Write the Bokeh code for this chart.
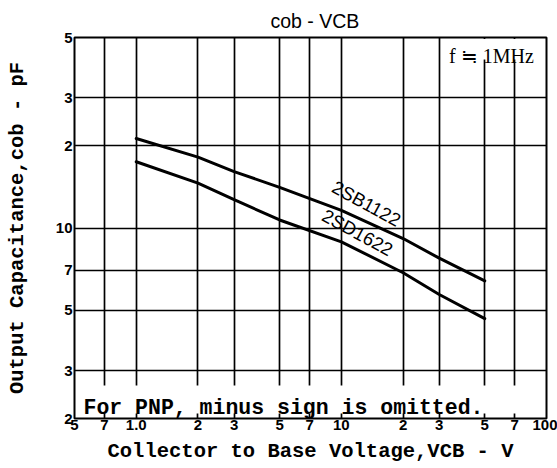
import math
from bokeh.plotting import figure
from bokeh.models import FixedTicker, Label, BoxAnnotation, Range1d, Title
from bokeh.embed import file_html
from bokeh.resources import INLINE
from bokeh.core.properties import value

# ---- data ----
vcb = [1.0, 2.0, 3.0, 5.0, 10.0, 20.0, 30.0, 50.0]
cob_2sb1122 = [21.3, 18.2, 16.1, 14.1, 11.6, 9.15, 7.75, 6.4]
cob_2sd1622 = [17.5, 14.6, 12.7, 10.7, 8.9, 6.85, 5.7, 4.65]

x_ticks = [0.5, 0.7, 1, 2, 3, 5, 7, 10, 20, 30, 50, 70, 100]
x_tick_labels = ["5", "7", "1.0", "2", "3", "5", "7", "10", "2", "3", "5", "7", "100"]
y_ticks = [2, 3, 5, 7, 10, 20, 30, 50]
y_tick_labels = ["2", "3", "5", "7", "10", "2", "3", "5"]
x_grid = [0.7, 1, 2, 3, 5, 7, 10, 20, 30, 50, 70]
y_grid = [3, 5, 7, 10, 20, 30]

X0, X1 = 0.5, 100.0
Y0, Y1 = 2.0, 50.0

# ---- layout ----
W, H = 557, 468
FL, FT, FW, FH = 74, 37, 472, 381


def dx(sx):
    return 10 ** (math.log10(X0) + (sx - FL) / FW * math.log10(X1 / X0))


def dy(sy):
    return 10 ** (math.log10(Y1) - (sy - FT) / FH * math.log10(Y1 / Y0))


title = Title(text="cob - VCB", align="left", offset=196,
              text_font="Liberation Sans", text_font_style="normal",
              text_font_size="19.5px", text_color="black", standoff=12)

p = figure(width=W, height=H, x_axis_type="log", y_axis_type="log",
           x_range=Range1d(X0, X1), y_range=Range1d(Y0, Y1),
           output_backend="svg", toolbar_location=None, title=title,
           min_border_left=FL, min_border_right=W - FL - FW,
           min_border_top=FT, min_border_bottom=H - FT - FH)

p.background_fill_color = "white"
p.border_fill_color = "white"
p.outline_line_color = "black"
p.outline_line_width = 2
p.outline_line_alpha = 1.0

# axes
p.xaxis.ticker = FixedTicker(ticks=x_ticks)
p.yaxis.ticker = FixedTicker(ticks=y_ticks)
p.xaxis.major_label_overrides = {t: s for t, s in zip(x_ticks, x_tick_labels)}
p.yaxis.major_label_overrides = {t: s for t, s in zip(y_ticks, y_tick_labels)}
for ax in (p.xaxis[0], p.yaxis[0]):
    ax.axis_line_color = None
    ax.major_tick_line_color = None
    ax.minor_tick_line_color = None
    ax.major_tick_out = 0
    ax.major_tick_in = 0
    ax.minor_tick_out = 0
    ax.minor_tick_in = 0
    ax.major_label_text_font = "Liberation Sans"
    ax.major_label_text_font_style = "bold"
    ax.major_label_text_font_size = "15px"
    ax.major_label_text_color = "black"
    ax.axis_label_text_font = "Liberation Mono"
    ax.axis_label_text_font_style = "bold"
    ax.axis_label_text_font_size = "20.5px"
    ax.axis_label_text_color = "black"

p.xaxis.major_label_standoff = 1
p.yaxis.major_label_standoff = 2
p.xaxis.axis_label = "Collector to Base Voltage,VCB - V"
p.xaxis.axis_label_standoff = 7
p.yaxis.axis_label = "Output Capacitance,cob - pF"
p.yaxis.axis_label_standoff = 24

# grid
p.xgrid.ticker = FixedTicker(ticks=x_grid)
p.ygrid.ticker = FixedTicker(ticks=y_grid)
for g in (p.xgrid[0], p.ygrid[0]):
    g.grid_line_color = "black"
    g.grid_line_width = 1.7
    g.grid_line_alpha = 1.0

# white boxes behind the in-plot notes
p.add_layout(BoxAnnotation(left=dx(FL + 1.5), right=dx(FL + FW - 1.5),
                           bottom=dy(413), top=dy(385),
                           fill_color="white", fill_alpha=1.0, line_color=None))
p.add_layout(BoxAnnotation(left=dx(444), right=dx(FL + FW - 1.5),
                           bottom=dy(59), top=dy(FT + 1.5),
                           fill_color="white", fill_alpha=1.0, line_color=None))

# curves
p.line(vcb, cob_2sb1122, line_color="black", line_width=3, line_cap="round")
p.line(vcb, cob_2sd1622, line_color="black", line_width=3, line_cap="round")

# curve labels
curve_names = ["2SB1122", "2SD1622"]
p.text(x=[dx(366), dx(357)], y=[dy(203), dy(232)], text=curve_names,
       angle=-0.5, text_align="center", text_baseline="middle",
       text_font=value("Liberation Sans"), text_font_size="18.5px",
       text_color="black")


def lab(text, sx, sy, size, font="Liberation Mono", style="bold",
        align="left", baseline="alphabetic"):
    p.add_layout(Label(x=dx(sx), y=dy(sy), text=text, text_font=font,
                       text_font_size=f"{size}px", text_font_style=style,
                       text_align=align, text_baseline=baseline,
                       text_color="black"))


# notes inside the plot
lab("f \u2252 1MHz", 491, 55, 20, font="Liberation Serif", style="normal", align="center")
lab("For PNP, minus sign is omitted.", 83, 407, 21.5)

open("out.html", "w").write(file_html(p, INLINE))
